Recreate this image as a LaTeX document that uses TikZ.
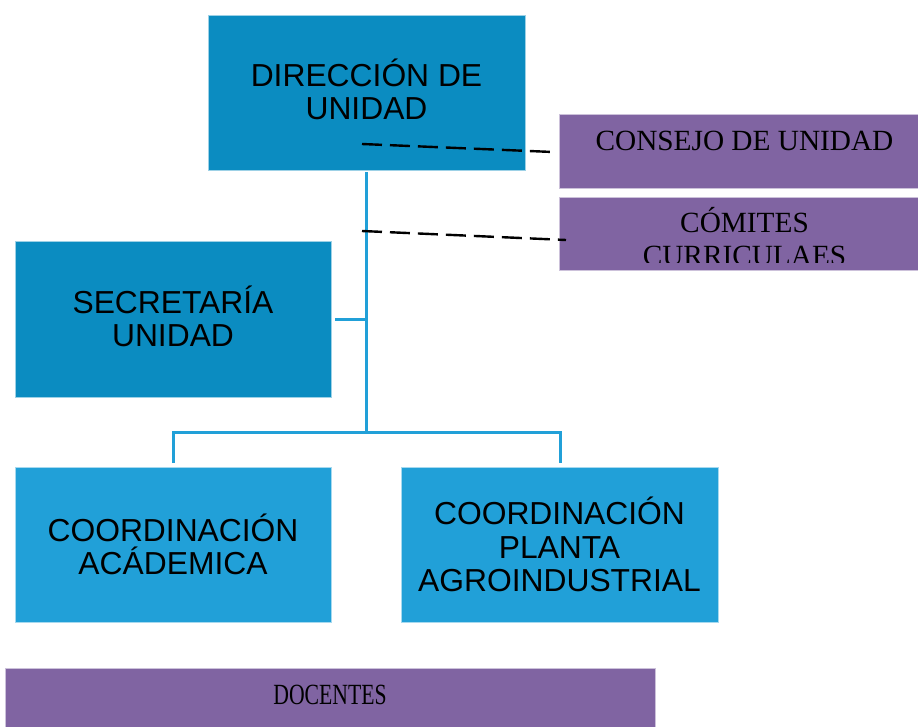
\documentclass[tikz,border=0pt]{standalone}
\usepackage{fontspec}
\setmainfont{Liberation Serif}
\newfontfamily\arialf{Liberation Sans}
\definecolor{darkblue}{HTML}{0B8CC1}
\definecolor{lightblue}{HTML}{21A0D8}
\definecolor{lilac}{HTML}{8064A2}
\tikzset{
  sanst/.style={inner sep=0pt, outer sep=0pt, align=center, font=\arialf\fontsize{31.8}{33.5}\selectfont},
  box/.style={sanst, rectangle, draw=white!60!#1, line width=0.8pt, fill=#1},
  pbox/.style={rectangle, inner sep=0pt, outer sep=0pt, draw=white!60!lilac, line width=0.8pt, fill=lilac},
  serift/.style={font=\fontsize{29.3}{32}\selectfont, inner sep=0pt, anchor=base},
  tree/.style={draw=lightblue, line width=3pt},
  dashline/.style={draw=black, line width=2.4pt, dash pattern=on 20pt off 8pt}
}
\begin{document}
\begin{tikzpicture}[x=1pt,y=-1pt]
\useasboundingbox (0,0) rectangle (918,726);
% boxes
\node[box=darkblue, minimum width=317pt, minimum height=155pt] (dir) at (366.5,92.5) {};
\node[sanst] (dirT) at (366.5,89.5) {DIRECCIÓN DE\\UNIDAD};
\node[box=darkblue, minimum width=316pt, minimum height=156pt] (sec) at (173,319) {};
\node[sanst] (secT) at (173,316.5) {SECRETARÍA\\UNIDAD};
\node[box=lightblue, minimum width=316pt, minimum height=155pt] (acad) at (173,544.5) {COORDINACIÓN\\ACÁDEMICA};
\node[box=lightblue, minimum width=317pt, minimum height=155pt] (plan) at (559.5,544.5) {COORDINACIÓN\\PLANTA\\AGROINDUSTRIAL};
\node[pbox, minimum width=359pt, minimum height=74pt] (cons) at (738.5,151) {};
\node[serift] (consT) at (744.5,150) {CONSEJO DE UNIDAD};
\node[pbox, minimum width=359pt, minimum height=73pt] (com) at (738.5,233.5) {};
\begin{scope}
\clip (559,197) rectangle (918,262);
\node[serift] (comT) at (744.5,232) {CÓMITES};
\node[serift] (comT2) at (744.5,265) {CURRICULAES};
\end{scope}
\node[pbox, minimum width=650pt, minimum height=60pt] (doc) at (330,698) {};
\node[serift] (docT) at (330,704) {\scalebox{0.74}[1]{DOCENTES}};
% tree connectors
\coordinate (top) at (366,172);
\coordinate (mid) at (366,432);
\coordinate (secj) at (366,319);
\coordinate (secE) at (335,319);
\coordinate (la) at (173,432);
\coordinate (lb) at (173,463);
\coordinate (ra) at (560,432);
\coordinate (rb) at (560,463);
\draw[tree] (top) -- (mid);
\draw[tree] (secE) -- (secj);
\draw[tree] (lb) -- (la) -- (ra) -- (rb);
% dashed links
\coordinate (d1) at (362,144);
\coordinate (e1) at (553,152);
\coordinate (d2) at (362,231);
\coordinate (e2) at (566,240);
\draw[dashline] (d1) -- (e1);
\draw[dashline] (d2) -- (e2);
\end{tikzpicture}
\end{document}
